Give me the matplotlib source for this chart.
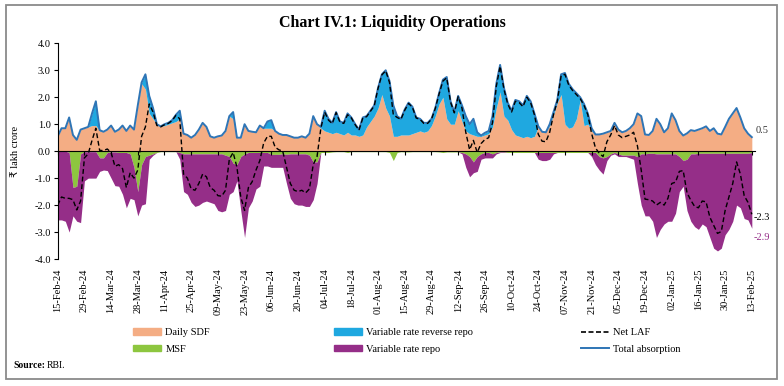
import numpy as np
import pandas as pd
import matplotlib
matplotlib.use("Agg")
import matplotlib.pyplot as plt
import matplotlib.dates as mdates
from matplotlib.patches import Rectangle, Patch
from matplotlib.lines import Line2D

plt.rcParams['font.family'] = ['Liberation Serif', 'DejaVu Sans']

# 2-day grid starting 15-Feb-24; one row below = one 14-day tick interval
start = pd.Timestamp("2024-02-15")
days = np.arange(0, 365, 2)
dates = start + pd.to_timedelta(days, unit="D")

total_absorption = [
    0.55, 0.85, 0.85, 1.25, 0.60, 0.42, 0.80,   # 15-Feb
    0.85, 0.90, 1.40, 1.85, 0.78, 0.72, 0.80,   # 29-Feb
    0.95, 0.72, 0.80, 0.95, 0.75, 0.95, 0.80,   # 14-Mar
    1.70, 2.55, 2.85, 2.05, 1.60, 1.00, 0.92,   # 28-Mar
    1.00, 1.05, 1.15, 1.35, 1.50, 0.65, 0.60,   # 11-Apr
    0.50, 0.60, 0.80, 1.05, 0.90, 0.55, 0.50,   # 25-Apr
    0.55, 0.58, 0.75, 1.30, 1.45, 0.50, 0.50,   # 09-May
    1.00, 0.75, 0.72, 0.70, 0.95, 0.85, 1.10,   # 23-May
    1.15, 0.75, 0.65, 0.60, 0.60, 0.55, 0.50,   # 06-Jun
    0.50, 0.55, 0.50, 0.65, 1.30, 1.00, 0.90,   # 20-Jun
    1.50, 1.20, 1.05, 1.45, 1.10, 1.05, 1.40,   # 04-Jul
    1.25, 1.00, 0.80, 1.25, 1.30, 1.50, 1.70,   # 18-Jul
    2.35, 2.85, 3.00, 2.60, 1.70, 1.30, 1.20,   # 01-Aug
    1.55, 1.80, 1.65, 1.25, 1.20, 1.05, 1.05,   # 15-Aug
    1.20, 1.60, 2.15, 2.65, 2.75, 1.85, 1.45,   # 29-Aug
    2.05, 1.70, 1.30, 1.00, 1.20, 0.70, 0.58,   # 12-Sep
    0.68, 0.75, 1.30, 2.50, 3.20, 2.35, 1.80,   # 26-Sep
    1.50, 1.90, 1.85, 1.70, 2.05, 1.85, 1.40,   # 10-Oct
    0.93, 0.72, 0.70, 1.00, 1.45, 1.90, 2.85,   # 24-Oct
    2.90, 2.50, 2.30, 2.15, 2.00, 1.75, 1.40,   # 07-Nov
    0.85, 0.62, 0.62, 0.65, 0.70, 0.75, 1.05,   # 21-Nov
    0.80, 0.70, 0.75, 0.85, 1.00, 1.40, 1.30,   # 05-Dec
    0.62, 0.60, 0.75, 1.20, 1.00, 0.70, 0.85,   # 19-Dec
    1.40, 1.15, 0.75, 0.58, 0.66, 0.78, 0.75,   # 02-Jan
    0.80, 0.85, 0.92, 0.75, 0.85, 0.65, 0.62,   # 16-Jan
    0.90, 1.20, 1.40, 1.60, 1.25, 0.85, 0.65,   # 30-Jan
    0.52,
]

daily_sdf = [
    0.55, 0.85, 0.85, 1.25, 0.60, 0.42, 0.80,
    0.85, 0.90, 0.95, 0.95, 0.75, 0.72, 0.80,
    0.95, 0.72, 0.80, 0.95, 0.75, 0.95, 0.80,
    1.70, 2.50, 2.30, 1.40, 1.20, 1.00, 0.92,
    0.95, 1.00, 1.05, 1.10, 1.20, 0.65, 0.60,
    0.50, 0.60, 0.80, 1.05, 0.90, 0.55, 0.50,
    0.55, 0.58, 0.75, 1.30, 1.20, 0.50, 0.50,
    1.00, 0.75, 0.72, 0.70, 0.95, 0.85, 0.85,
    0.85, 0.75, 0.65, 0.60, 0.60, 0.55, 0.50,
    0.50, 0.55, 0.50, 0.65, 1.30, 1.00, 0.85,
    0.75, 0.70, 0.65, 0.70, 0.65, 0.60, 0.70,
    0.60, 0.60, 0.55, 0.60, 0.90, 1.10, 1.30,
    1.60, 2.10, 1.60, 1.30, 0.55, 0.55, 0.60,
    0.60, 0.60, 0.65, 0.70, 0.75, 0.70, 0.75,
    0.95, 1.30, 1.75, 2.00, 1.20, 1.00, 1.00,
    1.50, 1.10, 0.75, 0.65, 0.60, 0.55, 0.55,
    0.60, 0.65, 0.90, 1.60, 2.20, 1.30, 1.15,
    0.80, 0.60, 0.55, 0.50, 0.55, 0.50, 0.55,
    0.90, 0.70, 0.70, 0.95, 1.35, 1.80, 2.10,
    1.00, 0.85, 0.90, 1.20, 1.90, 0.95, 1.00,
    0.75, 0.62, 0.62, 0.65, 0.70, 0.75, 1.05,
    0.80, 0.70, 0.75, 0.85, 1.00, 1.40, 1.30,
    0.62, 0.60, 0.75, 1.20, 1.00, 0.70, 0.85,
    1.40, 1.15, 0.75, 0.58, 0.66, 0.78, 0.75,
    0.80, 0.85, 0.92, 0.75, 0.85, 0.65, 0.62,
    0.90, 1.20, 1.40, 1.60, 1.25, 0.85, 0.65,
    0.52,
]

msf = [
    0.00, 0.00, 0.00, 0.05, 1.35, 1.30, 0.10,
    0.02, 0.02, 0.02, 0.02, 0.25, 0.25, 0.05,
    0.03, 0.03, 0.05, 0.05, 0.05, 0.10, 0.60,
    1.50, 0.50, 0.20, 0.15, 0.10, 0.05, 0.02,
    0.02, 0.02, 0.02, 0.02, 0.05, 0.10, 0.10,
    0.10, 0.10, 0.10, 0.10, 0.10, 0.10, 0.10,
    0.10, 0.10, 0.15, 0.20, 0.45, 0.50, 0.20,
    0.10, 0.05, 0.05, 0.05, 0.05, 0.05, 0.05,
    0.12, 0.12, 0.12, 0.10, 0.12, 0.10, 0.10,
    0.10, 0.10, 0.10, 0.15, 0.40, 0.40, 0.05,
    0.05, 0.05, 0.03, 0.02, 0.02, 0.02, 0.05,
    0.02, 0.02, 0.02, 0.02, 0.02, 0.02, 0.02,
    0.02, 0.02, 0.02, 0.05, 0.35, 0.05, 0.02,
    0.03, 0.03, 0.02, 0.02, 0.02, 0.02, 0.02,
    0.02, 0.02, 0.03, 0.05, 0.03, 0.03, 0.03,
    0.03, 0.05, 0.10, 0.20, 0.40, 0.20, 0.10,
    0.05, 0.05, 0.10, 0.05, 0.03, 0.03, 0.05,
    0.05, 0.05, 0.05, 0.05, 0.05, 0.05, 0.05,
    0.05, 0.05, 0.05, 0.05, 0.05, 0.05, 0.05,
    0.05, 0.05, 0.05, 0.05, 0.05, 0.05, 0.05,
    0.05, 0.05, 0.20, 0.25, 0.20, 0.10, 0.05,
    0.10, 0.15, 0.15, 0.15, 0.15, 0.20, 0.10,
    0.10, 0.08, 0.08, 0.10, 0.10, 0.10, 0.10,
    0.10, 0.10, 0.20, 0.35, 0.30, 0.10, 0.10,
    0.08, 0.08, 0.08, 0.08, 0.08, 0.08, 0.08,
    0.08, 0.08, 0.08, 0.08, 0.08, 0.08, 0.08,
    0.05,
]

# MSF + variable rate repo (depth of the purple area)
total_injection = [
    2.55, 2.55, 2.60, 3.00, 2.40, 2.60, 2.65,
    1.10, 1.00, 1.00, 1.00, 0.75, 0.70, 0.72,
    1.00, 1.28, 1.30, 1.60, 2.10, 1.75, 1.80,
    2.40, 2.00, 1.95, 0.30, 0.15, 0.05, 0.02,
    0.02, 0.02, 0.02, 0.02, 0.30, 1.50, 1.60,
    1.90, 2.05, 2.00, 1.90, 1.85, 1.90, 1.95,
    2.20, 2.25, 2.20, 1.60, 1.50, 1.10, 2.20,
    3.20, 2.10, 1.85, 1.40, 1.30, 0.55, 0.55,
    0.60, 0.60, 0.60, 0.60, 1.20, 1.75, 1.95,
    2.00, 2.00, 2.05, 2.05, 1.80, 1.20, 0.05,
    0.05, 0.05, 0.03, 0.02, 0.02, 0.02, 0.05,
    0.02, 0.02, 0.02, 0.02, 0.02, 0.02, 0.02,
    0.02, 0.02, 0.02, 0.05, 0.35, 0.05, 0.02,
    0.03, 0.03, 0.02, 0.02, 0.02, 0.02, 0.02,
    0.02, 0.02, 0.03, 0.05, 0.03, 0.03, 0.03,
    0.03, 0.10, 0.60, 0.95, 0.80, 0.75, 0.30,
    0.25, 0.25, 0.25, 0.10, 0.05, 0.05, 0.05,
    0.05, 0.05, 0.05, 0.05, 0.05, 0.05, 0.05,
    0.30, 0.35, 0.35, 0.30, 0.10, 0.05, 0.05,
    0.05, 0.05, 0.05, 0.05, 0.05, 0.05, 0.05,
    0.20, 0.50, 0.70, 0.85, 0.35, 0.15, 0.10,
    0.20, 0.20, 0.20, 0.25, 0.30, 1.20, 2.00,
    2.40, 2.40, 2.60, 3.20, 2.90, 2.70, 2.60,
    2.60, 2.30, 1.50, 1.30, 2.20, 2.60, 2.80,
    2.90, 2.70, 2.80, 3.20, 3.60, 3.70, 3.60,
    3.10, 2.90, 2.60, 2.00, 2.10, 2.50, 2.55,
    2.86,
]

tick_dates = pd.date_range("2024-02-15", "2025-02-13", freq="14D")

ta = np.array(total_absorption)
sdf = np.array(daily_sdf)
msf_a = np.array(msf)
inj = np.array(total_injection)
net_laf = ta - inj

c_sdf = '#F4AD84'
c_vrrr = '#1FA8E0'
c_msf = '#8DC63F'
c_vrr = '#952E88'
c_ta = '#2E75B6'

fig = plt.figure(figsize=(7.84, 3.86), dpi=100)
ax = fig.add_axes([0.0736, 0.329, 0.889, 0.5588])

ax.fill_between(dates, 0, sdf, color=c_sdf, lw=0)
ax.fill_between(dates, sdf, ta, color=c_vrrr, lw=0)
ax.fill_between(dates, 0, -msf_a, color=c_msf, lw=0)
ax.fill_between(dates, -msf_a, -inj, color=c_vrr, lw=0)
ax.plot(dates, ta, color=c_ta, lw=1.4)
ax.plot(dates, net_laf, color='black', lw=1.0, ls=(0, (3.5, 2)))

ax.set_ylim(-4, 4)
ax.set_yticks(np.arange(-4, 5, 1))
ax.yaxis.set_major_formatter(matplotlib.ticker.FormatStrFormatter('%.1f'))
ax.set_xlim(mdates.date2num(start), mdates.date2num(start) + 365.5)

for s in ['top', 'right', 'bottom']:
    ax.spines[s].set_visible(False)
ax.spines['left'].set_linewidth(0.8)
ax.tick_params(axis='y', length=3, width=0.8, pad=2, labelsize=7.5)

ax.set_xticks(tick_dates)
ax.xaxis.set_major_formatter(mdates.DateFormatter('%d-%b-%y'))
ax.tick_params(axis='x', length=0, pad=7, labelsize=7.5, labelrotation=90)

# zero line with the tick marks
sec = ax.secondary_xaxis(0.5)
sec.set_xticks(tick_dates)
sec.tick_params(direction='in', length=3, width=0.8, labeltop=False, labelbottom=False)
for s in sec.spines.values():
    s.set_linewidth(0.8)
sec.set_zorder(5)

ax.set_ylabel('₹ lakh crore', fontsize=7.5)
ax.yaxis.set_label_coords(-0.054, 0.5)

# end values
ax.annotate(f"{ta[-1]:.1f}", (dates[-1], ta[-1]), xytext=(3, 5), textcoords='offset points',
            fontsize=7.5, va='center', ha='left', color='#333333')
ax.annotate(f"{net_laf[-1]:.1f}", (dates[-1], net_laf[-1]), xytext=(1, -2), textcoords='offset points',
            fontsize=7.5, va='center', ha='left', color='black')
ax.annotate(f"{-inj[-1]:.1f}", (dates[-1], -inj[-1]), xytext=(1, -7), textcoords='offset points',
            fontsize=7.5, va='center', ha='left', color=c_vrr)

fig.text(0.5, 1 - 23 / 386, 'Chart IV.1: Liquidity Operations', ha='center', va='center',
         fontsize=11.5, fontweight='bold')

leg_kw = dict(loc='upper left', frameon=False, fontsize=7.5, borderpad=0, borderaxespad=0,
              handlelength=2.7, handletextpad=0.4, labelspacing=0.75, handleheight=0.6)
leg_y = 1 - 328 / 386
fig.legend([Patch(color=c_sdf), Patch(color=c_msf)], ['Daily SDF', 'MSF'],
           bbox_to_anchor=(133 / 784, leg_y), **leg_kw)
fig.legend([Patch(color=c_vrrr), Patch(color=c_vrr)], ['Variable rate reverse repo', 'Variable rate repo'],
           bbox_to_anchor=(334 / 784, leg_y), **leg_kw)
fig.legend([Line2D([], [], color='black', lw=1.2, ls=(0, (3, 1.5))), Line2D([], [], color=c_ta, lw=1.4)],
           ['Net LAF', 'Total absorption'],
           bbox_to_anchor=(581 / 784, leg_y), **leg_kw)

fig.text(13 / 784, 1 - 366 / 386, 'Source:', fontsize=7, fontweight='bold', va='center')
fig.text(47 / 784, 1 - 366 / 386, 'RBI.', fontsize=7, va='center')

fig.add_artist(Rectangle((6 / 784, 1 - 379 / 386), 771 / 784, 374 / 386, transform=fig.transFigure,
                         fill=False, ec='#8a8a8a', lw=1.3))

fig.savefig('out.png', dpi=100)
